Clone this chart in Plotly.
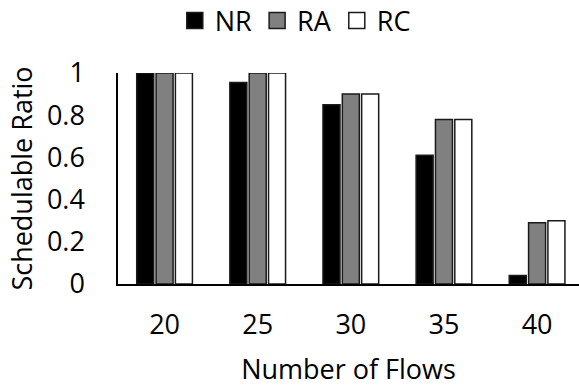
import plotly.graph_objects as go

flows = ["20", "25", "30", "35", "40"]
nr = [1.0, 0.955, 0.85, 0.61, 0.04]
ra = [1.0, 1.0, 0.90, 0.78, 0.29]
rc = [1.0, 1.0, 0.90, 0.78, 0.30]

y_ticks = [0, 0.2, 0.4, 0.6, 0.8, 1.0]
y_tick_text = ["0", "0.2", "0.4", "0.6", "0.8", "1"]

FONT = "Open Sans"
EDGE = "#1a1a1a"
CLEAR = "rgba(0,0,0,0)"
series = [("NR", nr, "black"), ("RA", ra, "#808080"), ("RC", rc, "white")]

fig = go.Figure()
for name, vals, color in series:
    fig.add_trace(go.Bar(
        x=flows, y=vals, name=name, showlegend=False,
        marker=dict(color=color, line=dict(color=EDGE, width=1.5)),
    ))
# legend keys: larger square swatches than the default bar symbol
for name, vals, color in series:
    fig.add_trace(go.Scatter(
        x=[None], y=[None], name=name, mode="markers",
        marker=dict(symbol="square", size=18, color=color,
                    line=dict(color=EDGE, width=1.5)),
    ))

fig.update_layout(
    width=579, height=387,
    margin=dict(l=118, r=0, t=73, b=103),
    paper_bgcolor="white", plot_bgcolor="white",
    barmode="group", bargap=0.377, bargroupgap=0.12,
    font=dict(family=FONT, size=27, color="black"),
    legend=dict(orientation="h", x=0.51, xref="container", xanchor="center",
                y=0.946, yref="container", yanchor="middle",
                font=dict(size=27), itemwidth=30, bgcolor=CLEAR),
)
# invisible ticks push the tick labels away from the axis lines
fig.update_xaxes(
    range=[-0.5, 4.45],
    showline=True, linecolor="black", linewidth=1.5,
    ticks="outside", ticklen=16, tickcolor=CLEAR,
    showgrid=False,
    title=dict(text="Number of Flows", standoff=22, font=dict(size=27)),
)
fig.update_yaxes(
    range=[0, 1], tickvals=y_ticks, ticktext=y_tick_text,
    showline=True, linecolor="black", linewidth=1.5,
    ticks="outside", ticklen=26, tickcolor=CLEAR,
    showgrid=False, zeroline=False,
    title=dict(text="Schedulable Ratio", standoff=6, font=dict(size=27)),
)

fig.write_html("out.html")
